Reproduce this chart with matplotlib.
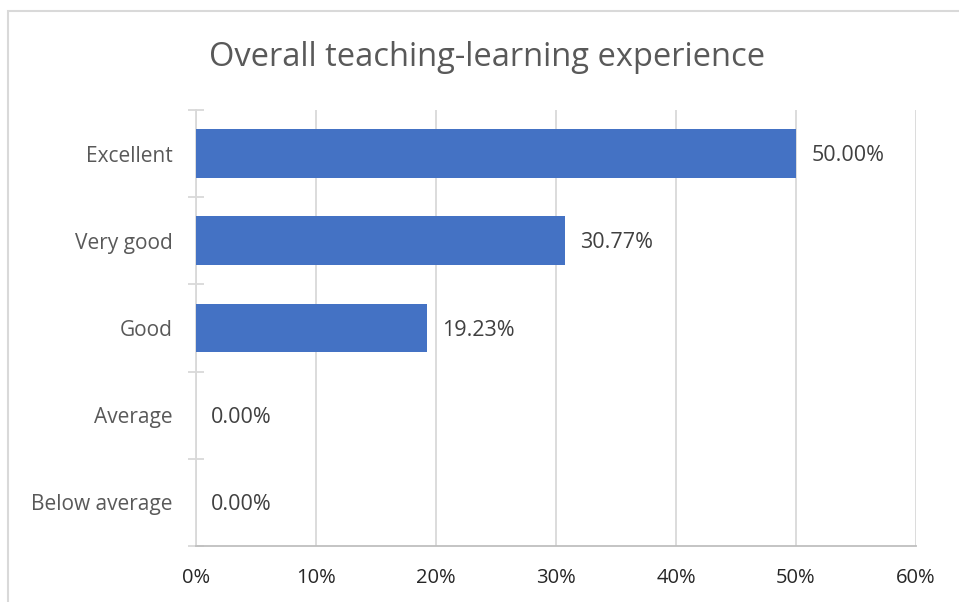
import matplotlib.pyplot as plt
from matplotlib.patches import Rectangle
from matplotlib.ticker import FixedLocator, NullFormatter

plt.rcParams['font.family'] = ['Open Sans', 'DejaVu Sans']

# Données
categories = ['Excellent', 'Very good', 'Good', 'Average', 'Below average']
valeurs = [50.00, 30.77, 19.23, 0.00, 0.00]
graduations = [0, 10, 20, 30, 40, 50, 60]

fig = plt.figure(figsize=(9.59, 6.02), dpi=100)
ax = fig.add_axes([196 / 959, 56 / 602, 720 / 959, 436 / 602])

# Bordure du graphique (coupée à droite et en bas)
fig.patches.append(Rectangle((7.5 / 959, -0.1), 2, (602 - 11) / 602 + 0.1,
                             transform=fig.transFigure, fill=False,
                             edgecolor='#d9d9d9', linewidth=1.5))

y = range(len(categories))
ax.barh(y, valeurs, height=0.56, color='#4472c4', zorder=3)

for i, v in enumerate(valeurs):
    ax.annotate(f'{v:.2f}%', (v, i), xytext=(11, -1.5), textcoords='offset points',
                va='center', ha='left', fontsize=15.5, color='#404040')

ax.set_xlim(0, 60)
ax.set_ylim(4.5, -0.5)
ax.set_xticks(graduations)
ax.set_xticklabels([f'{g}%' for g in graduations], fontsize=14.5, color='#262626')
ax.set_yticks(list(y))
ax.set_yticklabels(categories, fontsize=15, color='#595959')
ax.tick_params(axis='y', length=0, pad=17)
ax.tick_params(axis='x', length=0, pad=16)

# petites graduations entre catégories
ax.yaxis.set_minor_locator(FixedLocator([i - 0.5 for i in range(len(categories) + 1)]))
ax.yaxis.set_minor_formatter(NullFormatter())
ax.tick_params(axis='y', which='minor', length=11, direction='inout',
               color='#d9d9d9', width=1.3)

ax.grid(axis='x', color='#d9d9d9', linewidth=1.3, zorder=0)
for s in ['top', 'right']:
    ax.spines[s].set_visible(False)
ax.spines['left'].set_color('#d9d9d9')
ax.spines['left'].set_linewidth(1.3)
ax.spines['bottom'].set_color('#bfbfbf')
ax.spines['bottom'].set_linewidth(1.3)

fig.text(487 / 959, 1 - 58 / 602, 'Overall teaching-learning experience',
         ha='center', va='center', fontsize=23.5, color='#595959')

plt.savefig('out.png', dpi=100)
